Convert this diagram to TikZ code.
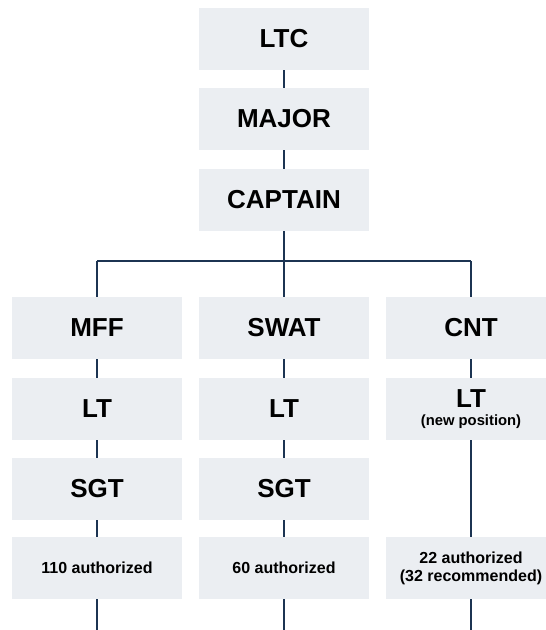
\documentclass[tikz,border=0pt]{standalone}
\usepackage{fontspec}
\setmainfont{Liberation Sans}
\definecolor{boxfill}{RGB}{235,238,242}
\definecolor{linecol}{RGB}{28,52,82}
\begin{document}
\begin{tikzpicture}[x=1pt,y=1pt,
  rankbox/.style={fill=boxfill,draw=none,minimum width=170pt,minimum height=62pt,inner sep=0pt,align=center,
    font=\fontsize{26}{28}\selectfont\bfseries},
  smallbox/.style={rankbox,font=\fontsize{16}{18}\selectfont\bfseries},
  bigtext/.style={inner sep=0pt,anchor=base,font=\fontsize{26}{28}\selectfont\bfseries},
  notetext/.style={inner sep=0pt,anchor=base,font=\fontsize{14.8}{17}\selectfont\bfseries},
  conn/.style={draw=linecol,line width=1.4pt}]
\useasboundingbox (0,0) rectangle (546,-630);
\begin{scope}
\clip (0,0) rectangle (546,-630);
% top column
\node[rankbox] (ltc) at (284,-39) {LTC};
\node[rankbox] (major) at (284,-119) {MAJOR};
\node[rankbox] (captain) at (284,-200) {CAPTAIN};
\coordinate (split) at (284,-261);
\coordinate (splitL) at (97,-261);
\coordinate (splitR) at (471,-261);
% MFF column
\node[rankbox] (mff) at (97,-328) {MFF};
\node[rankbox] (mfflt) at (97,-409) {LT};
\node[rankbox] (mffsgt) at (97,-489) {SGT};
\node[smallbox] (mffauth) at (97,-568) {110 authorized};
\coordinate (mffend) at (97,-632);
% SWAT column
\node[rankbox] (swat) at (284,-328) {SWAT};
\node[rankbox] (swatlt) at (284,-409) {LT};
\node[rankbox] (swatsgt) at (284,-489) {SGT};
\node[smallbox] (swatauth) at (284,-568) {60 authorized};
\coordinate (swatend) at (284,-632);
% CNT column
\node[rankbox] (cnt) at (471,-328) {CNT};
\node[rankbox] (cntlt) at (471,-409) {};
\node[bigtext] (cntlttitle) at (471,-407) {LT};
\node[notetext] (cntltnote) at (471,-425.5) {(new position)};
\node[smallbox] (cntauth) at (471,-568) {22 authorized\\(32 recommended)};
\coordinate (cntend) at (471,-632);
% connectors
\draw[conn] (ltc) -- (major);
\draw[conn] (major) -- (captain);
\draw[conn] (captain) -- (split);
\draw[conn] (splitL) -- (splitR);
\draw[conn] (splitL) -- (mff);
\draw[conn] (split) -- (swat);
\draw[conn] (splitR) -- (cnt);
\draw[conn] (mff) -- (mfflt);
\draw[conn] (mfflt) -- (mffsgt);
\draw[conn] (mffsgt) -- (mffauth);
\draw[conn] (mffauth) -- (mffend);
\draw[conn] (swat) -- (swatlt);
\draw[conn] (swatlt) -- (swatsgt);
\draw[conn] (swatsgt) -- (swatauth);
\draw[conn] (swatauth) -- (swatend);
\draw[conn] (cnt) -- (cntlt);
\draw[conn] (cntlt) -- (cntauth);
\draw[conn] (cntauth) -- (cntend);
\end{scope}
\end{tikzpicture}
\end{document}
